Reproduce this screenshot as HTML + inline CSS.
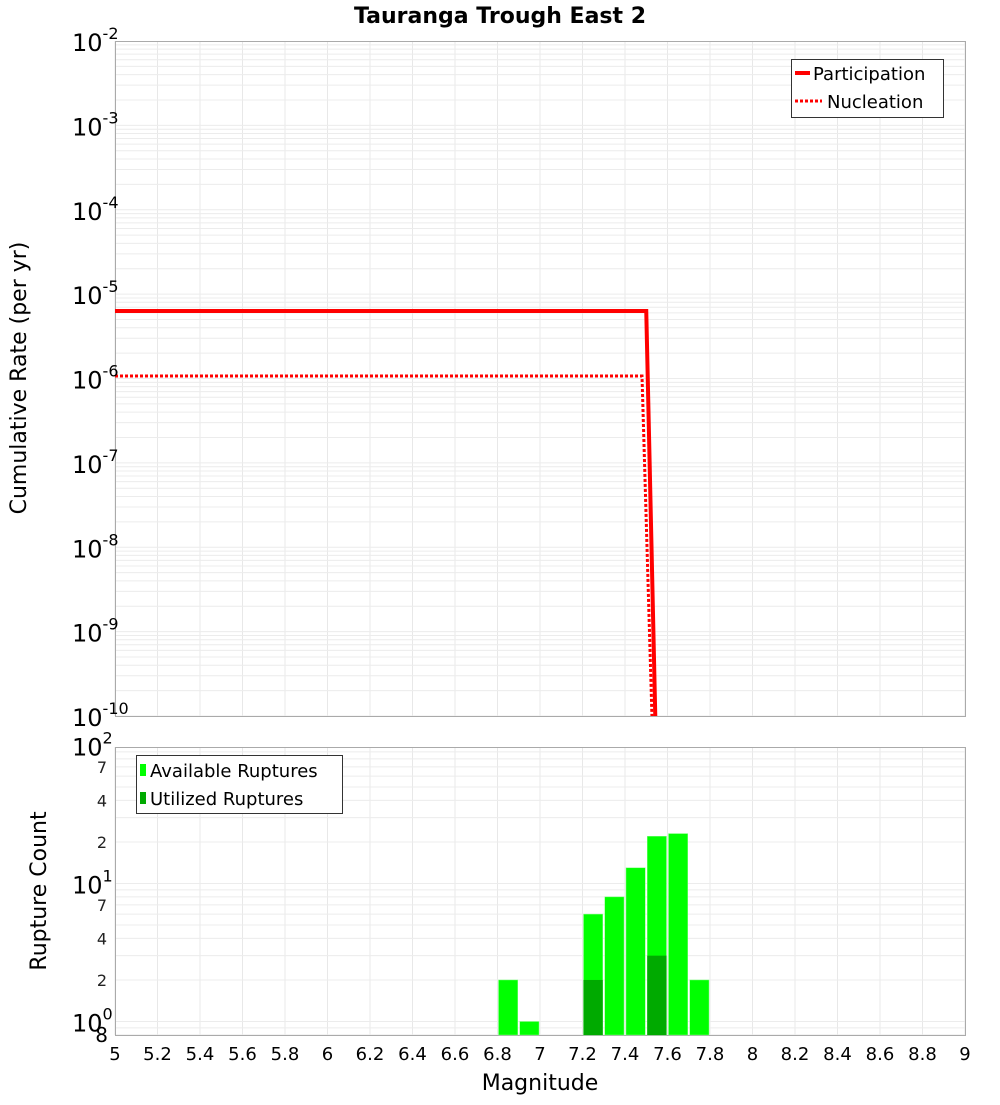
<!DOCTYPE html>
<html><head><meta charset="utf-8"><style>
body{margin:0;background:#fff;}
svg text{font-family:"DejaVu Sans","Liberation Sans",sans-serif;}
</style></head><body>
<svg id="c" width="1000" height="1100" xmlns="http://www.w3.org/2000/svg">
<text x="500" y="23" text-anchor="middle" font-size="22" font-weight="bold">Tauranga Trough East 2</text>
<g id="grid"></g>
<rect x="115.5" y="41.5" width="850" height="675" fill="none" stroke="#aaa"/>
<rect x="115.5" y="747.5" width="850" height="288" fill="none" stroke="#aaa"/>
<g id="marks"></g>
<g id="axes"></g>
<text transform="translate(26,378) rotate(-90)" text-anchor="middle" font-size="22">Cumulative Rate (per yr)</text>
<text transform="translate(46,891) rotate(-90)" text-anchor="middle" font-size="22">Rupture Count</text>
<text x="540" y="1090" text-anchor="middle" font-size="22">Magnitude</text>
<g>
<rect x="791.5" y="59.5" width="152" height="58" fill="#fff" stroke="#333"/>
<line x1="795" y1="73" x2="810" y2="73" stroke="#f00" stroke-width="4"/>
<text x="813" y="80" font-size="18">Participation</text>
<line x1="795" y1="101" x2="822" y2="101" stroke="#f00" stroke-width="3" stroke-dasharray="3,2"/>
<text x="827" y="108" font-size="18">Nucleation</text>
</g>
<g>
<rect x="136.5" y="755.5" width="206" height="58" fill="#fff" stroke="#333"/>
<rect x="140" y="764" width="6" height="12" fill="#0f0"/>
<text x="150" y="777" font-size="18">Available Ruptures</text>
<rect x="140" y="792" width="6" height="12" fill="#0a0"/>
<text x="150" y="805" font-size="18">Utilized Ruptures</text>
</g>
</svg>
<script>
const partMags=[5.0,7.5,7.55];
const partRates=[6.3e-6,6.3e-6,1.4e-11];
const nuclMags=[5.0,7.48,7.55];
const nuclRates=[1.07e-6,1.07e-6,1e-12];
const binCenters=[6.85,6.95,7.25,7.35,7.45,7.55,7.65,7.75];
const availCounts=[2,1,6,8,13,22,23,2];
const usedCounts=[0,0,2,0,0,3,0,0];
const xTicks=[5,5.2,5.4,5.6,5.8,6,6.2,6.4,6.6,6.8,7,7.2,7.4,7.6,7.8,8,8.2,8.4,8.6,8.8,9];
const rateExps=[-2,-3,-4,-5,-6,-7,-8,-9,-10];
const countMinor=[7,4,2,70,40,20];
const NS="http://www.w3.org/2000/svg";
const X=m=>115+(m-5)*212.5;
const YR=v=>41+(-2-Math.log10(v))*84.375;
const YC=v=>1021.5-Math.log10(v)*138;
function mk(t,a,p){const e=document.createElementNS(NS,t);for(const k in a)e.setAttribute(k,a[k]);(p||document.getElementById('marks')).appendChild(e);return e;}
const g=document.getElementById('grid'),ax=document.getElementById('axes'),mg=document.getElementById('marks');
// grid
for(const t of xTicks){
 const l1=mk('line',{x1:X(t),x2:X(t),y1:41,y2:716,stroke:'#e8e8e8'},g);
 
 
 const l2=mk('line',{x1:X(t),x2:X(t),y1:747,y2:1035,stroke:'#e8e8e8'},g);
 
 
}
for(let e=-10;e<-2;e++)for(let k=1;k<10;k++){const y=YR(k*Math.pow(10,e));
 const l=mk('line',{x1:115,x2:965,y1:y,y2:y,stroke:'#ececec'},g);
 
 }
for(let e=-1;e<2;e++)for(let k=1;k<10;k++){const v=k*Math.pow(10,e);if(v<0.8)continue;const y=YC(v);
 const l=mk('line',{x1:115,x2:965,y1:y,y2:y,stroke:'#ececec'},g);
 
 }
// top y labels
for(const e of rateExps){const y=YR(Math.pow(10,e));
 const t=mk('text',{x:72,y:y+10,'font-size':24},ax);
 
 
 t.innerHTML='10<tspan dy="-12" font-size="16">'+e+'</tspan>';}
// bottom y labels
[[100,'2'],[10,'1'],[1,'0']].forEach(([v,s])=>{const y=YC(v);
 const t=mk('text',{x:72,y:y+10,'font-size':24},ax);
 
 
 t.innerHTML='10<tspan dy="-12" font-size="16">'+s+'</tspan>';});
for(const v of countMinor){const t=mk('text',{x:107,y:YC(v)+6,'font-size':16,'text-anchor':'end',fill:'#222'},ax);
 
 
 t.textContent=String(v).charAt(0);}
{const t=mk('text',{x:108,y:1042,'font-size':20,'text-anchor':'end'},ax);
 
 
 t.textContent='8';}
for(const v of xTicks){const t=mk('text',{x:X(v),y:1060,'font-size':18,'text-anchor':'middle'},ax);
 
 
 t.textContent=String(v);}
// lines
const clip=mk('clipPath',{id:'cp'},mg);mk('rect',{x:115,y:41,width:850,height:675},clip);
const pp=mk('polyline',{points:partMags.map((m,i)=>X(m)+','+YR(partRates[i])).join(' '),fill:'none',stroke:'#f00','stroke-width':4,'clip-path':'url(#cp)'},mg);


const np=mk('polyline',{points:nuclMags.map((m,i)=>X(m)+','+YR(nuclRates[i])).join(' '),fill:'none',stroke:'#f00','stroke-width':3,'stroke-dasharray':'3,2','clip-path':'url(#cp)'},mg);


// bars
binCenters.forEach((c,i)=>{
 const x0=X(c-0.05)+1,w=212.5*0.1-2,y=YC(availCounts[i]);
 const b=mk('rect',{x:x0,y:y,width:w,height:1035-y,fill:'#0f0',stroke:'#8f8','stroke-width':0.5},mg);
 
 
 if(usedCounts[i]>0){const yu=YC(usedCounts[i]);
  const u=mk('rect',{x:x0,y:yu,width:w,height:1035-yu,fill:'#0a0'},mg);
  
  }
});
</script>
</body></html>
